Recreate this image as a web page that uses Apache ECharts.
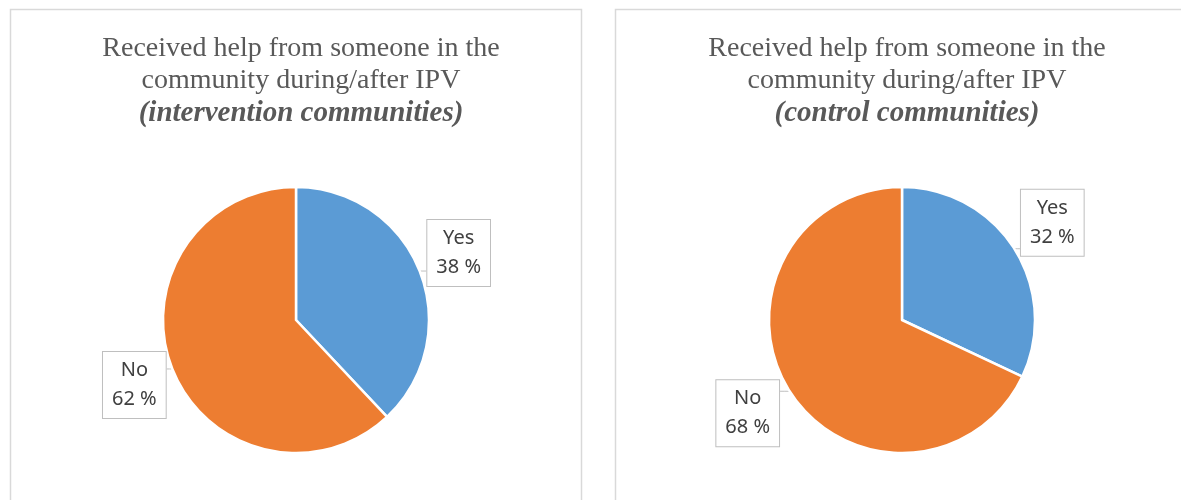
<!DOCTYPE html>
<html>
<head>
<meta charset="utf-8">
<script src="https://cdn.jsdelivr.net/npm/echarts@6/dist/echarts.min.js"></script>
<style>
  html, body { margin: 0; padding: 0; background: #ffffff; }
  #chart { width: 1181px; height: 500px; }
</style>
</head>
<body>
<div id="chart"></div>
<script>
// Survey answers: share of respondents who received help from someone in the community
const categories = ['Yes', 'No'];
const interventionShares = [38, 62];
const controlShares = [32, 68];
const titleLines = ['Received help from someone in the', 'community during/after IPV'];
const groupNames = ['(intervention communities)', '(control communities)'];

const sliceColors = ['#5B9BD5', '#ED7D31'];

// Callout placement: shift of each label box centre from the slice's outer edge point
const calloutShift = [
  [[39, -18], [-38, 16]],
  [[38, -26], [-42, 22]]
];

function toData(values) {
  return categories.map((name, i) => ({ name, value: values[i] }));
}

function makeTitle(group, centerX) {
  return {
    text: titleLines.join('\n') + '\n{b|' + group + '}',
    left: centerX,
    top: 27,
    textAlign: 'center',
    textStyle: {
      fontFamily: 'Liberation Serif',
      fontSize: 28,
      fontWeight: 'normal',
      color: '#595959',
      lineHeight: 32.5,
      rich: {
        b: {
          fontFamily: 'Liberation Serif',
          fontSize: 29,
          fontWeight: 'bold',
          fontStyle: 'italic',
          color: '#595959',
          lineHeight: 32.5
        }
      }
    }
  };
}

function makePie(values, centerX, seriesIdx) {
  return {
    type: 'pie',
    center: [centerX, 320],
    radius: 133,
    startAngle: 90,
    clockwise: true,
    animation: false,
    data: toData(values),
    itemStyle: { borderColor: '#ffffff', borderWidth: 2.5 },
    label: {
      show: true,
      position: 'outside',
      formatter: '{b}\n{c} %',
      fontFamily: 'Noto Sans',
      fontSize: 20,
      lineHeight: 29,
      color: '#404040',
      align: 'center',
      backgroundColor: '#ffffff',
      borderColor: '#bfbfbf',
      borderWidth: 1,
      padding: [4, 9, 4, 9]
    },
    labelLine: {
      show: true,
      length: 6,
      length2: 4,
      lineStyle: { color: '#bfbfbf', width: 1 }
    },
    labelLayout: function (p) {
      const pts = p.labelLinePoints;
      const edge = pts[0];
      const shift = calloutShift[seriesIdx][p.dataIndex];
      const cx = edge[0] + shift[0];
      const cy = edge[1] + shift[1];
      const halfW = p.labelRect.width / 2;
      const boxSide = shift[0] > 0 ? cx - halfW : cx + halfW;
      const joinY = Math.max(cy - p.labelRect.height / 2 + 8,
                    Math.min(cy + p.labelRect.height / 2 - 8, edge[1]));
      return {
        x: cx,
        y: cy,
        align: 'center',
        verticalAlign: 'middle',
        labelLinePoints: [edge, [(edge[0] + boxSide) / 2, (edge[1] + joinY) / 2], [boxSide, joinY]]
      };
    },
    emphasis: { disabled: true }
  };
}

const chart = echarts.init(document.getElementById('chart'), null, { renderer: 'canvas' });
chart.setOption({
  backgroundColor: '#ffffff',
  color: sliceColors,
  title: [makeTitle(groupNames[0], 296), makeTitle(groupNames[1], 902)],
  graphic: [
    { type: 'rect', shape: { x: 10.5, y: 9.5, width: 571, height: 520 },
      style: { fill: 'none', stroke: '#d9d9d9', lineWidth: 1.5 }, silent: true },
    { type: 'rect', shape: { x: 615.5, y: 9.5, width: 600, height: 520 },
      style: { fill: 'none', stroke: '#d9d9d9', lineWidth: 1.5 }, silent: true }
  ],
  series: [makePie(interventionShares, 296, 0), makePie(controlShares, 902, 1)]
});
</script>
</body>
</html>
